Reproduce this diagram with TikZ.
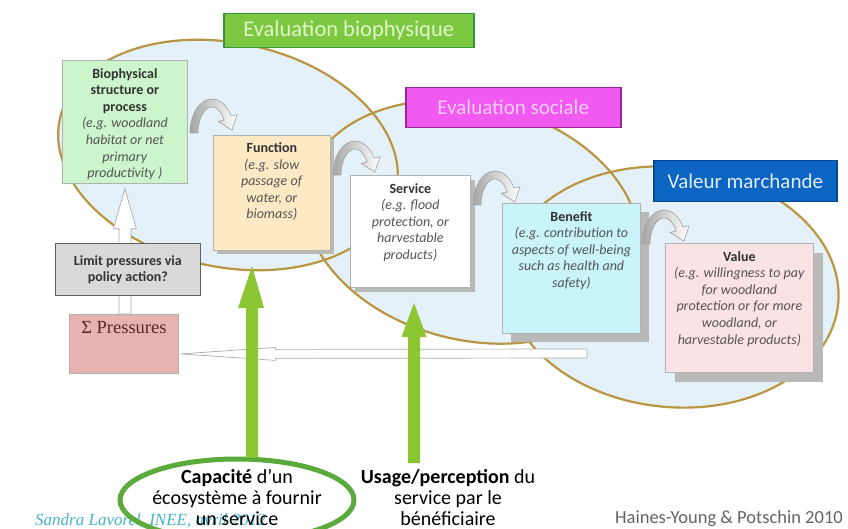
\documentclass[tikz,border=0pt]{standalone}
\usepackage{fontspec}
\setmainfont{Carlito}
\newfontfamily\serifx{Liberation Serif}
\usetikzlibrary{positioning,calc,shadows,shapes.geometric}
\definecolor{ellfill}{RGB}{229,241,248}
\definecolor{elldraw}{RGB}{185,150,65}
\definecolor{biofill}{RGB}{204,245,204}
\definecolor{funfill}{RGB}{253,233,196}
\definecolor{benfill}{RGB}{200,244,250}
\definecolor{valfill}{RGB}{251,226,228}
\definecolor{limfill}{RGB}{217,217,217}
\definecolor{presfill}{RGB}{230,178,178}
\definecolor{gbtitle}{RGB}{125,200,65}
\definecolor{gbdraw}{RGB}{50,150,60}
\definecolor{gbtext}{RGB}{225,245,200}
\definecolor{sotitle}{RGB}{240,90,240}
\definecolor{sodraw}{RGB}{150,40,150}
\definecolor{sotext}{RGB}{250,205,250}
\definecolor{vmtitle}{RGB}{12,100,195}
\definecolor{vmdraw}{RGB}{10,70,140}
\definecolor{vmtext}{RGB}{225,237,252}
\definecolor{garrow}{RGB}{140,198,50}
\definecolor{goval}{RGB}{90,170,60}
\definecolor{sandra}{RGB}{70,180,200}
\definecolor{haines}{RGB}{100,100,100}
\definecolor{ital}{RGB}{85,85,85}
\definecolor{boldt}{RGB}{50,50,50}
\definecolor{prestext}{RGB}{90,40,40}
\tikzset{
  curvarrow/.pic={
    \path[draw=gray!75, line width=0.6pt, left color=gray!70, right color=white]
      (0,0) arc[start angle=180, end angle=330, x radius=22, y radius=34]
      -- (47,-18.3) -- (41.9,-2.7) -- (28.2,-11.7) -- (34.1,-13)
      arc[start angle=330, end angle=180, x radius=14, y radius=26] -- cycle;
  }
}
\begin{document}
\begin{tikzpicture}[x=1pt,y=-1pt,
  ellfillst/.style={fill=ellfill},
  ellline/.style={draw=elldraw, line width=2.2pt},
  card/.style={draw=#1, line width=0.8pt, anchor=north west, inner sep=0pt},
  cardtext/.style={align=center, inner sep=0pt, font=\fontsize{14}{16.6}\selectfont, text=boldt},
  titlebox/.style={anchor=north west, inner sep=0pt, line width=1.5pt},
  shadowA/.style={drop shadow={shadow xshift=#1, shadow yshift=-#1, fill=gray!55, opacity=1}},
  holl/.style={draw=gray!65, fill=white, line width=0.7pt},
  greenarr/.style={fill=garrow},
  bigtext/.style={align=center, inner sep=0pt, font=\fontsize{20}{21}\selectfont, text=black}
]
\useasboundingbox (0,0) rectangle (848,529);
\fill[white] (0,0) rectangle (848,529);

% ellipses
\path[ellfillst, rotate around={-12:(228,155)}] (228,155) ellipse[x radius=172, y radius=112];
\path[ellfillst, rotate around={-14:(472,222)}] (472,222) ellipse[x radius=170, y radius=118];
\path[ellfillst, rotate around={-6:(672,287)}] (672,287) ellipse[x radius=167, y radius=120];
\path[ellline, rotate around={-12:(228,155)}] (228,155) ellipse[x radius=172, y radius=112];
\path[ellline, rotate around={-14:(472,222)}] (472,222) ellipse[x radius=170, y radius=118];
\path[ellline, rotate around={-6:(672,287)}] (672,287) ellipse[x radius=167, y radius=120];

% titles
\node[titlebox, draw=gbdraw, fill=gbtitle, minimum width=250pt, minimum height=34pt, text=gbtext, font=\fontsize{22.5}{24}\selectfont] (tbio) at (223,13) {Evaluation biophysique};
\node[titlebox, draw=sodraw, fill=sotitle, minimum width=215pt, minimum height=40pt, text=sotext, font=\fontsize{21}{23}\selectfont] (tsoc) at (405,87) {Evaluation sociale};
\node[titlebox, draw=vmdraw, fill=vmtitle, minimum width=183pt, minimum height=41pt, text=vmtext, font=\fontsize{21}{23}\selectfont] (tval) at (653,160) {Valeur marchande};

% cards
\node[card=gray!60, fill=biofill, minimum width=125pt, minimum height=123pt] (bio) at (62,60) {};
\node[cardtext, below=8pt of bio.north] (biot) {\textbf{Biophysical}\\\textbf{structure or}\\\textbf{process}\\\textcolor{ital}{\textit{(e.g. woodland}}\\\textcolor{ital}{\textit{habitat or net}}\\\textcolor{ital}{\textit{primary}}\\\textcolor{ital}{\textit{productivity )}}};

\node[card=gray!60, fill=funfill, minimum width=117pt, minimum height=115pt, shadowA=4pt] (fun) at (213,135) {};
\node[cardtext, below=7.5pt of fun.north] (funt) {\textbf{Function}\\\textcolor{ital}{\textit{(e.g. slow}}\\\textcolor{ital}{\textit{passage of}}\\\textcolor{ital}{\textit{water, or}}\\\textcolor{ital}{\textit{biomass)}}};

\node[card=gray!60, fill=white, minimum width=120pt, minimum height=112pt, shadowA=5pt] (serv) at (350,175) {};
\node[cardtext, below=8pt of serv.north] (servt) {\textbf{Service}\\\textcolor{ital}{\textit{(e.g. flood}}\\\textcolor{ital}{\textit{protection, or}}\\\textcolor{ital}{\textit{harvestable}}\\\textcolor{ital}{\textit{products)}}};

\node[card=gray!60, fill=benfill, minimum width=138pt, minimum height=130pt, shadowA=9pt] (ben) at (502,203) {};
\node[cardtext, below=8pt of ben.north] (bent) {\textbf{Benefit}\\\textcolor{ital}{\textit{(e.g. contribution to}}\\\textcolor{ital}{\textit{aspects of well-being}}\\\textcolor{ital}{\textit{such as health and}}\\\textcolor{ital}{\textit{safety)}}};

\node[card=gray!60, fill=valfill, minimum width=148pt, minimum height=129pt, shadowA=10pt] (val) at (665,243) {};
\node[cardtext, below=8pt of val.north] (valt) {\textbf{Value}\\\textcolor{ital}{\textit{(e.g. willingness to pay}}\\\textcolor{ital}{\textit{for woodland}}\\\textcolor{ital}{\textit{protection or for more}}\\\textcolor{ital}{\textit{woodland, or}}\\\textcolor{ital}{\textit{harvestable products)}}};

% pressures box
\node[card=gray!60, fill=presfill, minimum width=109pt, minimum height=59pt] (press) at (69,314) {};
\node[inner sep=0pt, below=7pt of press.north, font=\serifx\fontsize{18.5}{20}\selectfont, text=prestext] (presst) {Σ Pressures};

% long hollow arrow to pressures
\coordinate (ltail) at (587,353.5);
\coordinate (ptip) at ($(press.east)+(2,10)$);
\path[holl] ($(ltail)+(0,-4.5)$) -- ($(ptip)+(95,-4.5)$) -- ($(ptip)+(95,-6.5)$) -- (ptip)
  -- ($(ptip)+(95,6.5)$) -- ($(ptip)+(95,4.5)$) -- ($(ltail)+(0,4.5)$) -- cycle;

% vertical hollow arrow
\path[holl] ($(bio.south |- press.north)+(-6,0)$) -- ($(bio.south)+(-6,45)$) -- ($(bio.south)+(-11.5,45)$)
  -- ($(bio.south)+(0,5)$) -- ($(bio.south)+(11.5,45)$) -- ($(bio.south)+(6,45)$)
  -- ($(bio.south |- press.north)+(6,0)$) -- cycle;

% limit box
\node[card=gray!75!black, fill=limfill, minimum width=145pt, minimum height=52pt] (lim) at (55,243) {};
\node[cardtext, font=\bfseries\fontsize{14}{16}\selectfont] (limt) at (lim.center) {Limit pressures via\\policy action?};

% curved arrows
\pic (ca1) at (190,133) {curvarrow};
\pic (ca2) at (333,175) {curvarrow};
\pic (ca3) at (473,205) {curvarrow};
\pic (ca4) at (642,244) {curvarrow};

% bottom texts and oval
\node[anchor=base west, inner sep=0pt, font=\serifx\itshape\fontsize{17}{19}\selectfont, text=sandra] (sand) at (35,525) {Sandra Lavorel, INEE, avril 2012};
\node[draw=goval, line width=5pt, ellipse, minimum width=234pt, minimum height=82pt, inner sep=0pt] (capov) at (237,500) {};
\node[bigtext, anchor=north] (capt) at (237,469) {\textbf{Capacité} d’un\\écosystème à fournir\\un service};
\node[bigtext, anchor=north] (uset) at (448,469) {\textbf{Usage/perception} du\\service par le\\bénéficiaire};
\node[anchor=base east, inner sep=0pt, font=\fontsize{18.5}{20}\selectfont, text=haines] (hain) at (843,523) {Haines-Young \& Potschin 2010};

% green arrows
\coordinate (g1foot) at ($(capov.north)+(15,1)$);
\coordinate (g1tip) at (252,266);
\path[greenarr] ($(g1foot)+(-6,0)$) -- ($(g1tip)+(-6,42)$) -- ($(g1tip)+(-14,42)$) -- (g1tip)
  -- ($(g1tip)+(12,42)$) -- ($(g1tip)+(6,42)$) -- ($(g1foot)+(6,0)$) -- cycle;
\coordinate (g2foot) at (414,463);
\coordinate (g2tip) at (414,303);
\path[greenarr] ($(g2foot)+(-6,0)$) -- ($(g2tip)+(-6,34)$) -- ($(g2tip)+(-12.5,34)$) -- (g2tip)
  -- ($(g2tip)+(12.5,34)$) -- ($(g2tip)+(6,34)$) -- ($(g2foot)+(6,0)$) -- cycle;
\end{tikzpicture}
\end{document}
